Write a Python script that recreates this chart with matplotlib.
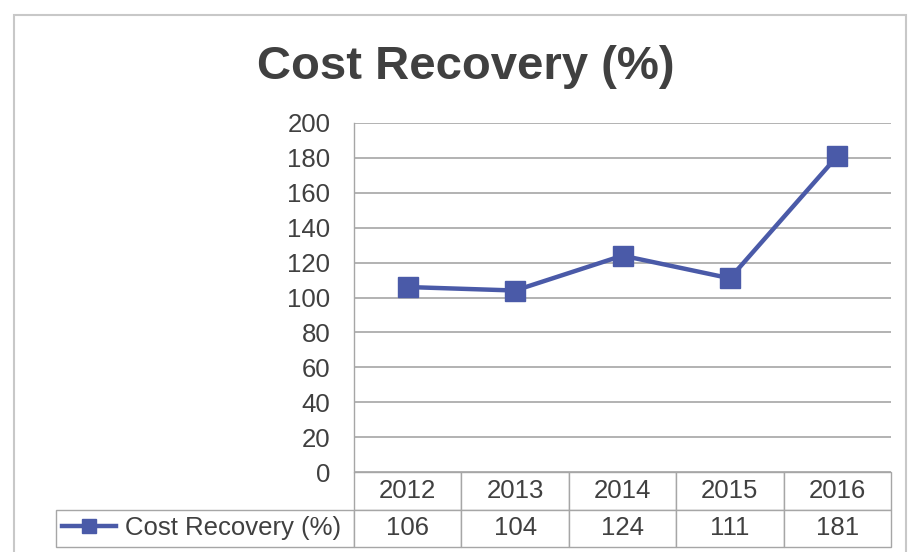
import matplotlib
matplotlib.use("Agg")
import matplotlib.pyplot as plt
from matplotlib.patches import Rectangle

# Chart data
years = ["2012", "2013", "2014", "2015", "2016"]
recovery = [106, 104, 124, 111, 181]
series_name = "Cost Recovery (%)"
chart_title = "Cost Recovery (%)"
y_ticks = list(range(0, 201, 20))

plt.rcParams["font.family"] = ["Liberation Sans", "DejaVu Sans"]

W, H = 908, 552
blue = "#4a5aa8"
text_color = "#404040"
grid_color = "#a6a6a6"

fig = plt.figure(figsize=(W / 100, H / 100), dpi=100)

# plot area in pixel coordinates of the reference
left, right, top, bottom = 354, 891, 123, 472
ax = fig.add_axes([left / W, (H - bottom) / H, (right - left) / W, (bottom - top) / H])

x = list(range(len(years)))
ax.plot(x, recovery, color=blue, lw=3.2, marker="s", ms=14, label=series_name,
        solid_joinstyle="round", zorder=3)
ax.set_xlim(-0.5, len(years) - 0.5)
ax.set_ylim(0, 200)
ax.set_yticks(y_ticks)
ax.set_xticks([])
ax.grid(axis="y", color=grid_color, lw=1.2)
ax.set_axisbelow(True)
for s in ["top", "right", "bottom"]:
    ax.spines[s].set_visible(False)
ax.spines["left"].set_color(grid_color)
ax.spines["left"].set_linewidth(1.0)
ax.tick_params(axis="y", length=0, pad=17, labelsize=18.5, labelcolor=text_color)

# data table under the chart
row_h = 75
tbl = ax.table(
    cellText=[[""] + years, [""] + [str(v) for v in recovery]],
    colWidths=[298] + [107.4] * len(years),
    cellLoc="center",
    bbox=[(56 - left) / (right - left), -row_h / (bottom - top),
          (right - 56) / (right - left), row_h / (bottom - top)],
)
tbl.auto_set_font_size(False)
tbl.set_fontsize(18.5)
for (r, c), cell in tbl.get_celld().items():
    cell.set_edgecolor(grid_color)
    cell.set_linewidth(1.0)
    cell.get_text().set_color(text_color)
tbl[0, 0].visible_edges = ""

ax.legend(loc="center left", bbox_to_anchor=(62 / W, 1 - 528 / H),
          bbox_transform=fig.transFigure, frameon=False, fontsize=18.5,
          handlelength=2.1, handletextpad=0.35, borderpad=0, borderaxespad=0,
          labelcolor=text_color, markerscale=0.7)

fig.text(466 / W, 1 - 67 / H, chart_title, ha="center", va="center",
         fontsize=34, fontweight="bold", color=text_color)

# outer chart frame
fig.patches.append(Rectangle((14 / W, -0.1), (906 - 14) / W, 1.1 - 15 / H,
                             transform=fig.transFigure, fill=False,
                             ec="#c8c8c8", lw=1.5))

fig.savefig("out.png", dpi=100)
